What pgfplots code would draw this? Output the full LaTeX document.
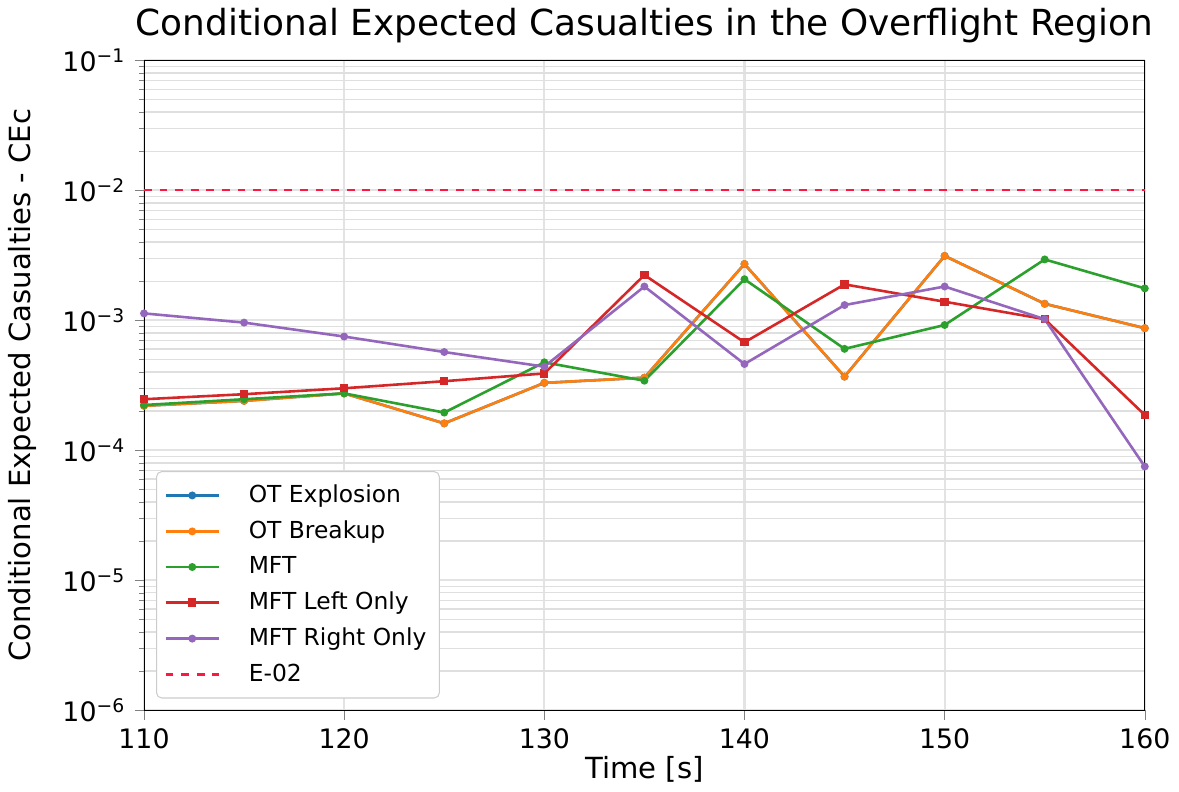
\documentclass[border=0pt]{standalone}
\usepackage{fontspec}
\setmainfont{DejaVu Sans}
\usepackage{pgfplots}
\pgfplotsset{compat=1.18}
\definecolor{tblue}{HTML}{1F77B4}
\definecolor{torange}{HTML}{FF7F0E}
\definecolor{tgreen}{HTML}{2CA02C}
\definecolor{tred}{HTML}{D62728}
\definecolor{tpurple}{HTML}{9467BD}
\definecolor{limred}{HTML}{FF1744}
\begin{document}
\begin{tikzpicture}
\begin{axis}[
    scale only axis,
    width=385pt, height=250pt,
    ymode=log,
    xmin=110, xmax=160, ymin=1e-6, ymax=1e-1,
    xtick={110,120,...,160},
    ytick={1e-6,1e-5,1e-4,1e-3,1e-2,1e-1},
    yticklabels={10\textsuperscript{−6},10\textsuperscript{−5},10\textsuperscript{−4},10\textsuperscript{−3},10\textsuperscript{−2},10\textsuperscript{−1}},
    /pgf/number format/assume math mode=true,
    ticklabel style={font=\fontsize{10.3}{12}\selectfont},
    tick align=outside, tick pos=left,
    major tick length=3.6pt, minor tick length=2pt,
    grid=both,
    major grid style={gray!22, line width=0.8pt},
    minor grid style={gray!25, line width=0.5pt},
    title={Conditional Expected Casualties in the Overflight Region},
    title style={font=\fontsize{13.8}{16}\selectfont, yshift=-3pt},
    xlabel={Time [s]},
    ylabel={Conditional Expected Casualties - CEc},
    label style={font=\fontsize{11.2}{13}\selectfont},
    xlabel style={yshift=4pt},
    ylabel style={yshift=3pt},
    legend style={at={(0.012,0.018)}, anchor=south west, rounded corners=2pt,
        draw=gray!40, font=\fontsize{9}{11}\selectfont, row sep=1.5pt, inner sep=3pt,
        /tikz/every odd column/.append style={column sep=9pt}},
    legend cell align=left,
    legend image code/.code={\draw[mark repeat=2,mark phase=2]
        plot coordinates {(0cm,0cm) (0.36cm,0cm) (0.72cm,0cm)};},
    every axis plot/.append style={line width=1pt, mark size=1pt},
]
\addplot[tblue, mark=*] coordinates {
    (110,2.2e-4) (115,2.4e-4) (120,2.74e-4) (125,1.61e-4) (130,3.3e-4) (135,3.62e-4)
    (140,2.71e-3) (145,3.69e-4) (150,3.13e-3) (155,1.34e-3) (160,8.7e-4)
};
\addplot[torange, mark=*] coordinates {
    (110,2.2e-4) (115,2.4e-4) (120,2.74e-4) (125,1.61e-4) (130,3.3e-4) (135,3.62e-4)
    (140,2.71e-3) (145,3.69e-4) (150,3.13e-3) (155,1.34e-3) (160,8.7e-4)
};
\addplot[tgreen, mark=*] coordinates {
    (110,2.23e-4) (115,2.47e-4) (120,2.74e-4) (125,1.95e-4) (130,4.75e-4) (135,3.43e-4)
    (140,2.07e-3) (145,6.03e-4) (150,9.2e-4) (155,2.94e-3) (160,1.76e-3)
};
\addplot[tred, mark=square*, mark size=1.1pt] coordinates {
    (110,2.47e-4) (115,2.7e-4) (120,3.0e-4) (125,3.4e-4) (130,3.9e-4) (135,2.23e-3)
    (140,6.77e-4) (145,1.89e-3) (150,1.39e-3) (155,1.02e-3) (160,1.87e-4)
};
\addplot[tpurple, mark=*] coordinates {
    (110,1.13e-3) (115,9.6e-4) (120,7.5e-4) (125,5.7e-4) (130,4.4e-4) (135,1.82e-3)
    (140,4.61e-4) (145,1.31e-3) (150,1.82e-3) (155,1.02e-3) (160,7.5e-5)
};
\addplot[limred, dashed, line width=0.9pt, mark=none] coordinates {(110,1e-2) (160,1e-2)};
\legend{OT Explosion, OT Breakup, MFT, MFT Left Only, MFT Right Only, E-02}
\end{axis}
\end{tikzpicture}
\end{document}
